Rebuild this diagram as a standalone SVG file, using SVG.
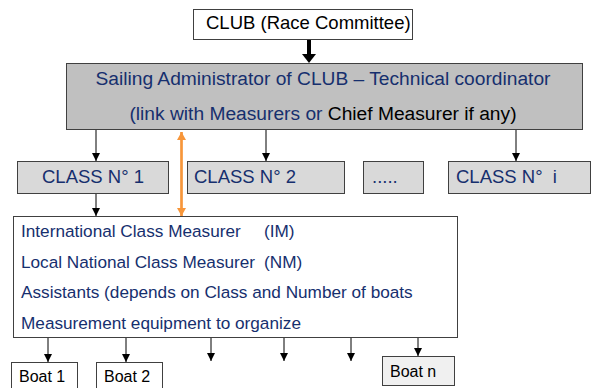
<svg xmlns="http://www.w3.org/2000/svg" width="592" height="388" viewBox="0 0 592 388">
<style>
  text { font-family: "Liberation Sans", Arial, sans-serif; }
  .box { stroke: #404040; stroke-width: 1; }
  .blue { fill: #162f6e; }
  .blk { fill: #000; }
  .conn { stroke: #000; stroke-width: 1; fill: none; marker-end: url(#ah); }
</style>
<defs>
  <marker id="ah" viewBox="0 0 8 8" refX="8" refY="4" markerWidth="8" markerHeight="8" markerUnits="userSpaceOnUse" orient="auto">
    <path d="M0,0 L8,4 L0,8 Z" fill="#000"/>
  </marker>
  <marker id="oh" viewBox="0 0 8 9" refX="8" refY="4.5" markerWidth="8" markerHeight="9" markerUnits="userSpaceOnUse" orient="auto-start-reverse">
    <path d="M0,0 L8,4.5 L0,9 Z" fill="#f7963a"/>
  </marker>
</defs>

<g id="club">
  <rect class="box" x="193.5" y="9.5" width="219" height="30" fill="#fff"/>
  <text x="206" y="29" font-size="18.5" class="blk">CLUB (Race Committee)</text>
</g>

<g id="admin">
  <rect class="box" x="66.5" y="63.5" width="516" height="66" fill="#c0c0c0"/>
  <text x="323" y="85" font-size="19.2" text-anchor="middle" class="blue">Sailing Administrator of CLUB – Technical coordinator</text>
  <text x="323" y="120" font-size="19.2" text-anchor="middle"><tspan class="blue">(link with Measurers or </tspan><tspan class="blk">Chief Measurer if any)</tspan></text>
</g>

<g id="class1">
  <rect class="box" x="17.5" y="161.5" width="151" height="32" fill="#d9d9d9"/>
  <text x="93" y="183" font-size="18.5" text-anchor="middle" class="blue">CLASS N° 1</text>
</g>
<g id="class2">
  <rect class="box" x="187.5" y="161.5" width="157" height="32" fill="#d9d9d9"/>
  <text x="194" y="183" font-size="18.5" class="blue">CLASS N° 2</text>
</g>
<g id="classdots">
  <rect class="box" x="363.5" y="161.5" width="60" height="32" fill="#d9d9d9"/>
  <text x="372" y="183" font-size="18.5" class="blue">.....</text>
</g>
<g id="classi">
  <rect class="box" x="448.5" y="161.5" width="142" height="32" fill="#d9d9d9"/>
  <text x="456" y="183" font-size="18.5" class="blue" xml:space="preserve">CLASS N°  i</text>
</g>

<g id="measurers">
  <rect class="box" x="13.5" y="216.5" width="444" height="121" fill="#fff"/>
  <text font-size="17.2" class="blue">
    <tspan x="21" y="237">International Class Measurer</tspan><tspan x="264" y="237">(IM)</tspan>
    <tspan x="21" y="267.5">Local National Class Measurer</tspan><tspan x="264" y="267.5">(NM)</tspan>
    <tspan x="21" y="298">Assistants (depends on Class and Number of boats</tspan>
    <tspan x="21" y="328.5">Measurement equipment to organize</tspan>
  </text>
</g>

<g id="boat1">
  <rect class="box" x="11.5" y="362.5" width="66" height="30" fill="#fff"/>
  <text x="19" y="382" font-size="16" class="blk">Boat 1</text>
</g>
<g id="boat2">
  <rect class="box" x="96.5" y="362.5" width="66" height="30" fill="#fff"/>
  <text x="104" y="382" font-size="16" class="blk">Boat 2</text>
</g>
<g id="boatn">
  <rect class="box" x="382.5" y="356.5" width="72" height="29" fill="#f0f0f0"/>
  <text x="390" y="377" font-size="16" class="blk">Boat n</text>
</g>

<g id="connectors">
  <path d="M309,40 V55" stroke="#000" stroke-width="4" fill="none"/>
  <path d="M302,54 L316,54 L309,63 Z" fill="#000"/>
  <path class="conn" d="M96,130 V161"/>
  <path class="conn" d="M266,130 V161"/>
  <path class="conn" d="M516,130 V161"/>
  <path class="conn" d="M96,194 V216"/>
  <path d="M181.5,132 V216" stroke="#f7963a" stroke-width="2.7" fill="none" marker-start="url(#oh)" marker-end="url(#oh)"/>
  <path class="conn" d="M48,338 V362"/>
  <path class="conn" d="M126,338 V362"/>
  <path class="conn" d="M211,338 V361"/>
  <path class="conn" d="M284,338 V361"/>
  <path class="conn" d="M351,338 V361"/>
  <path class="conn" d="M418,338 V356"/>
</g>
</svg>
